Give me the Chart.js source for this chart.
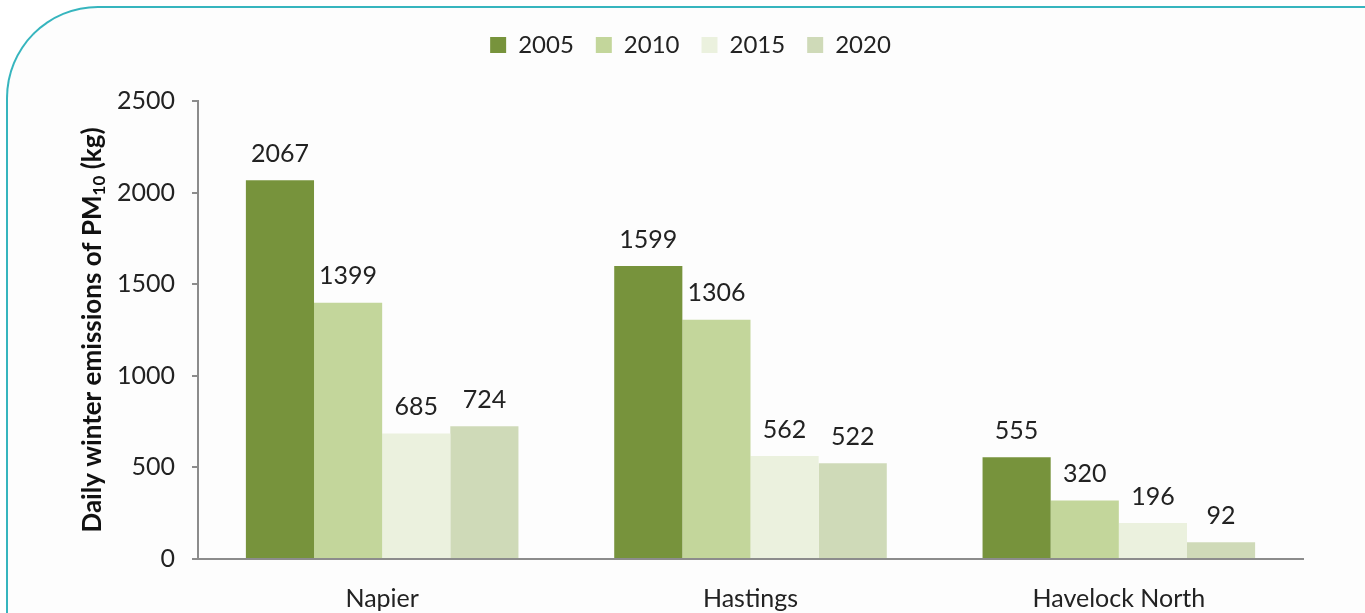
<!DOCTYPE html>
<html>
<head>
<meta charset="utf-8">
<script src="https://cdn.jsdelivr.net/npm/chart.js@4"></script>
<style>
  html, body { margin: 0; padding: 0; background: #ffffff; overflow: hidden; }
  #frame {
    position: absolute; left: 6px; top: 6px; width: 2000px; height: 2000px;
    border-top: 2px solid #36B5BE; border-left: 2px solid #36B5BE;
    border-top-left-radius: 92px; background: #fdfdfd;
  }
  #wrap { position: absolute; left: 0; top: 0; width: 1365px; height: 613px; }
</style>
</head>
<body>
<div id="frame"></div>
<div id="wrap"><canvas id="chart" width="1365" height="613"></canvas></div>
<script>
const towns = ["Napier", "Hastings", "Havelock North"];
const years = ["2005", "2010", "2015", "2020"];
const pm2005 = [2067, 1599, 555];
const pm2010 = [1399, 1306, 320];
const pm2015 = [685, 562, 196];
const pm2020 = [724, 522, 92];
const yTicks = [0, 500, 1000, 1500, 2000, 2500];

const colours = ["#77933C", "#C3D69B", "#EBF1DE", "#CFDAB8"];
const FONT = "Lato, 'Open Sans', sans-serif";

// value labels above every bar
const barLabels = {
  id: "barLabels",
  afterDatasetsDraw(chart) {
    const ctx = chart.ctx;
    ctx.save();
    ctx.font = "25px " + FONT;
    ctx.fillStyle = "#222";
    ctx.textAlign = "center";
    ctx.textBaseline = "bottom";
    chart.data.datasets.forEach((ds, i) => {
      chart.getDatasetMeta(i).data.forEach((bar, j) => {
        ctx.fillText(String(ds.data[j]), bar.x, bar.y - 14);
      });
    });
    ctx.restore();
  }
};

// rotated y title with the subscript in PM10
const yTitle = {
  id: "yTitle",
  afterDraw(chart) {
    const ctx = chart.ctx;
    const area = chart.chartArea;
    const parts = [
      { t: "Daily winter emissions of PM", size: 26, dy: 0 },
      { t: "10", size: 17, dy: 7 },
      { t: " (kg)", size: 26, dy: 0 }
    ];
    ctx.save();
    let total = 0;
    parts.forEach(p => {
      ctx.font = "bold " + p.size + "px " + FONT;
      p.w = ctx.measureText(p.t).width;
      total += p.w;
    });
    ctx.translate(93, (area.top + area.bottom) / 2);
    ctx.rotate(-Math.PI / 2);
    ctx.fillStyle = "#111";
    ctx.textBaseline = "middle";
    ctx.textAlign = "left";
    let x = -total / 2;
    parts.forEach(p => {
      ctx.font = "bold " + p.size + "px " + FONT;
      ctx.fillText(p.t, x, p.dy);
      x += p.w;
    });
    ctx.restore();
  }
};

// extra room under the legend, and nudge it right
const legendSpace = {
  id: "legendSpace",
  beforeInit(chart) {
    const fit = chart.legend.fit;
    chart.legend.fit = function () {
      fit.bind(chart.legend)();
      this.height += 34;
    };
  },
  afterLayout(chart) {
    chart.legend.left += 39;
    chart.legend.right += 39;
  }
};

new Chart(document.getElementById("chart"), {
  type: "bar",
  data: {
    labels: towns,
    datasets: [
      { label: years[0], data: pm2005, backgroundColor: colours[0] },
      { label: years[1], data: pm2010, backgroundColor: colours[1] },
      { label: years[2], data: pm2015, backgroundColor: colours[2] },
      { label: years[3], data: pm2020, backgroundColor: colours[3] }
    ]
  },
  options: {
    responsive: false,
    animation: false,
    layout: { padding: { top: 11, right: 62, bottom: 0, left: 0 } },
    datasets: { bar: { categoryPercentage: 0.74, barPercentage: 1.0 } },
    plugins: {
      legend: {
        display: true,
        position: "top",
        labels: {
          font: { family: FONT, size: 24 },
          color: "#222",
          boxWidth: 16,
          boxHeight: 16,
          padding: 22
        }
      },
      tooltip: { enabled: false }
    },
    scales: {
      x: {
        grid: { display: false, drawTicks: false },
        border: { display: true, color: "#8c8c8c", width: 2 },
        ticks: { font: { family: FONT, size: 25 }, color: "#222", padding: 25 },
        afterFit(scale) { scale.height = 54; }
      },
      y: {
        min: 0,
        max: 2500,
        afterBuildTicks(scale) { scale.ticks = yTicks.map(v => ({ value: v })); },
        grid: { drawOnChartArea: false, drawTicks: true, tickLength: 6, color: "#8c8c8c", lineWidth: 2 },
        border: { display: true, color: "#8c8c8c", width: 2 },
        ticks: {
          font: { family: FONT, size: 25 },
          color: "#222",
          padding: 17,
          callback: v => String(v)
        },
        afterFit(scale) { scale.width = 198; }
      }
    }
  },
  plugins: [barLabels, yTitle, legendSpace]
});
</script>
</body>
</html>
